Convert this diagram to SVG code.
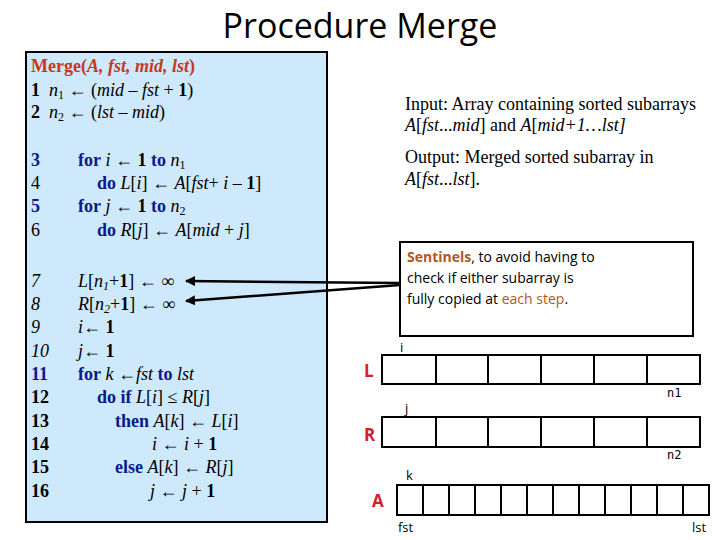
<svg xmlns="http://www.w3.org/2000/svg" width="720" height="540" viewBox="0 0 720 540">
<style>
.c{font-family:"Liberation Serif",serif;font-size:18px;fill:#000}
.b{font-weight:bold;fill:#0a1a8c}
.k{font-weight:bold}
.i{font-style:italic}
.s{font-family:"Open Sans","DejaVu Sans",sans-serif;font-size:14px;fill:#000}
.o{fill:#b5552a}
.cell{fill:#fff;stroke:#000;stroke-width:2}
.red{font-family:"Open Sans",sans-serif;font-size:17px;font-weight:bold;fill:#d0202a}
.lbl{font-family:"DejaVu Sans Mono",monospace;font-size:12px;fill:#000}
.lb2{font-family:"Open Sans",sans-serif;font-size:13px;fill:#000}
</style>
<defs><marker id="ah" viewBox="0 0 10 10" refX="9" refY="5" markerWidth="4" markerHeight="4" orient="auto"><path d="M0,0L10,5L0,10z" fill="#000"/></marker></defs>
<text x="360" y="38" text-anchor="middle" font-family="Open Sans,sans-serif" font-size="34">Procedure Merge</text>
<g id="code">
<rect x="26" y="52" width="301" height="470" fill="#cde9fb" stroke="#000" stroke-width="2"/>
<text class="c" x="31" y="72"><tspan font-weight="bold" fill="#c8381e">Merge(<tspan font-style="italic">A, fst, mid, lst</tspan>)</tspan></text>
<text class="c" x="31" y="96"><tspan class="k">1</tspan>&#160;&#160;<tspan class="i">n</tspan><tspan font-size="12" dy="3">1</tspan><tspan dy="-3">&#160;← (<tspan class="i">mid</tspan> – <tspan class="i">fst</tspan> + <tspan class="k">1</tspan>)</tspan></text>
<text class="c" x="31" y="118"><tspan class="k">2</tspan>&#160;&#160;<tspan class="i">n</tspan><tspan font-size="12" dy="3">2</tspan><tspan dy="-3">&#160;← (<tspan class="i">lst</tspan> – <tspan class="i">mid</tspan>)</tspan></text>
<text class="c" x="31" y="166"><tspan class="b">3</tspan></text>
<text class="c" x="78" y="166"><tspan class="b">for</tspan> <tspan class="i">i</tspan> ← <tspan class="k">1</tspan> <tspan class="b">to</tspan> <tspan class="i">n</tspan><tspan font-size="12" dy="3">1</tspan></text>
<text class="c" x="31" y="189">4</text>
<text class="c" x="97" y="189"><tspan class="b">do</tspan> <tspan class="i">L</tspan>[<tspan class="i">i</tspan>] ← <tspan class="i">A</tspan>[<tspan class="i">fst</tspan>+ <tspan class="i">i</tspan> – <tspan class="k">1</tspan>]</text>
<text class="c" x="31" y="212"><tspan class="b">5</tspan></text>
<text class="c" x="78" y="212"><tspan class="b">for</tspan> <tspan class="i">j</tspan> ← <tspan class="k">1</tspan> <tspan class="b">to</tspan> <tspan class="i">n</tspan><tspan font-size="12" dy="3">2</tspan></text>
<text class="c" x="31" y="236">6</text>
<text class="c" x="97" y="236"><tspan class="b">do</tspan> <tspan class="i">R</tspan>[<tspan class="i">j</tspan>] ← <tspan class="i">A</tspan>[<tspan class="i">mid</tspan> + <tspan class="i">j</tspan>]</text>
<text class="c i" x="31" y="287">7</text>
<text class="c" x="78" y="287"><tspan class="i">L</tspan>[<tspan class="i">n</tspan><tspan font-size="12" dy="3" class="i">1</tspan><tspan dy="-3">+<tspan class="k">1</tspan>] ← ∞</tspan></text>
<text class="c i" x="31" y="310">8</text>
<text class="c" x="78" y="310"><tspan class="i">R</tspan>[<tspan class="i">n</tspan><tspan font-size="12" dy="3" class="i">2</tspan><tspan dy="-3">+<tspan class="k">1</tspan>] ← ∞</tspan></text>
<text class="c i" x="31" y="333">9</text>
<text class="c" x="78" y="333"><tspan class="i">i</tspan>← <tspan class="k">1</tspan></text>
<text class="c i" x="31" y="357">10</text>
<text class="c" x="78" y="357"><tspan class="i">j</tspan>← <tspan class="k">1</tspan></text>
<text class="c" x="31" y="380"><tspan class="b">11</tspan></text>
<text class="c" x="78" y="380"><tspan class="b">for</tspan> <tspan class="i">k</tspan> ←<tspan class="i">fst</tspan> <tspan class="b">to</tspan> <tspan class="i">lst</tspan></text>
<text class="c k" x="31" y="403">12</text>
<text class="c" x="97" y="403"><tspan class="b">do if</tspan> <tspan class="i">L</tspan>[<tspan class="i">i</tspan>] ≤ <tspan class="i">R</tspan>[<tspan class="i">j</tspan>]</text>
<text class="c k" x="31" y="427">13</text>
<text class="c" x="115" y="427"><tspan class="b">then</tspan> <tspan class="i">A</tspan>[<tspan class="i">k</tspan>] ← <tspan class="i">L</tspan>[<tspan class="i">i</tspan>]</text>
<text class="c k" x="31" y="450">14</text>
<text class="c" x="152" y="450"><tspan class="i">i</tspan> ← <tspan class="i">i</tspan> + <tspan class="k">1</tspan></text>
<text class="c k" x="31" y="473">15</text>
<text class="c" x="115" y="473"><tspan class="b">else</tspan> <tspan class="i">A</tspan>[<tspan class="i">k</tspan>] ← <tspan class="i">R</tspan>[<tspan class="i">j</tspan>]</text>
<text class="c k" x="31" y="497">16</text>
<text class="c" x="150" y="497"><tspan class="i">j</tspan> ← <tspan class="i">j</tspan> + <tspan class="k">1</tspan></text>
</g>
<g id="io">
<text class="c" x="405" y="110" font-size="16">Input: Array containing sorted subarrays</text>
<text class="c" x="405" y="131" font-size="16"><tspan class="i">A</tspan>[<tspan class="i">fst</tspan>...<tspan class="i">mid</tspan>] and <tspan class="i">A</tspan>[<tspan class="i">mid+1…lst]</tspan></text>
<text class="c" x="405" y="163" font-size="16">Output: Merged sorted subarray in</text>
<text class="c" x="405" y="185" font-size="16"><tspan class="i">A</tspan>[<tspan class="i">fst</tspan>...<tspan class="i">lst</tspan>].</text>
</g>
<g id="sentinels">
<rect x="400" y="242" width="293" height="94" fill="#fff" stroke="#000" stroke-width="2"/>
<text class="s" x="407" y="262"><tspan class="o" font-weight="bold">Sentinels</tspan>, to avoid having to</text>
<text class="s" x="407" y="283">check if either subarray is</text>
<text class="s" x="407" y="304">fully copied at <tspan class="o">each step</tspan>.</text>
</g>
<g id="connectors" stroke="#000" stroke-width="2.5" fill="none">
<line x1="400" y1="283" x2="186" y2="281" marker-end="url(#ah)"/>
<line x1="400" y1="285" x2="186" y2="301" marker-end="url(#ah)"/>
</g>
<g id="arrayL">
<text class="red" x="364" y="377">L</text>
<rect class="cell" x="382" y="355" width="318" height="29"/>
<path d="M436,355V384M488,355V384M541,355V384M594,355V384M647,355V384" stroke="#000" stroke-width="2"/>
<text class="lb2" x="400" y="352">i</text>
<text class="lbl" x="667" y="397">n1</text>
</g>
<g id="arrayR">
<text class="red" x="364" y="441">R</text>
<rect class="cell" x="382" y="417" width="318" height="30"/>
<path d="M436,417V447M488,417V447M541,417V447M594,417V447M647,417V447" stroke="#000" stroke-width="2"/>
<text class="lb2" x="405" y="413">j</text>
<text class="lbl" x="667" y="459">n2</text>
</g>
<g id="arrayA">
<text class="red" x="372" y="507">A</text>
<rect class="cell" x="397" y="485" width="312" height="30"/>
<path d="M423,485V515M449,485V515M475,485V515M501,485V515M527,485V515M553,485V515M579,485V515M605,485V515M631,485V515M657,485V515M683,485V515" stroke="#000" stroke-width="2"/>
<text class="lb2" x="406" y="480">k</text>
<text class="lb2" x="398" y="532">fst</text>
<text class="lb2" x="692" y="532">lst</text>
</g>
</svg>
